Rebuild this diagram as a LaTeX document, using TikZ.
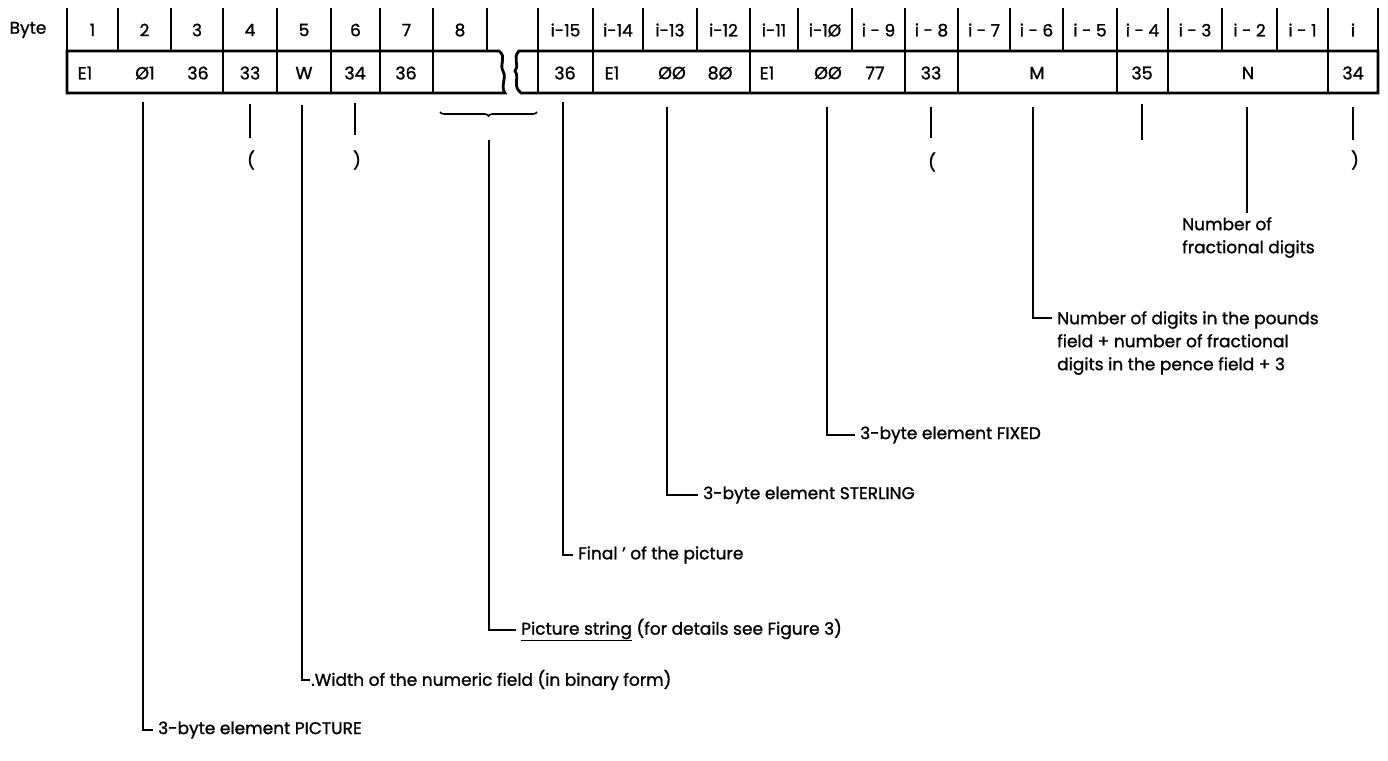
\documentclass[tikz,border=0pt]{standalone}
\usepackage{fontspec}
\setmainfont{Poppins}[FakeBold=1.2]
\usetikzlibrary{decorations.pathreplacing}
\begin{document}
\begin{tikzpicture}[x=1pt,y=-1pt,
  hdr/.style={font=\fontsize{17}{20}\selectfont, inner sep=0pt},
  cell/.style={font=\fontsize{17.5}{20}\selectfont, inner sep=0pt},
  lbl/.style={font=\fontsize{17}{23}\selectfont, anchor=west, inner sep=0pt, align=left},
  frame/.style={line width=2.8pt, line join=miter},
  sep/.style={line width=2.4pt},
  leader/.style={line width=1.2pt},
  tick/.style={line width=1.2pt},
]
\useasboundingbox (0,0) rectangle (1388,760);

% header separators
\foreach \x in {67,118,171,223,277,331,380,433,487,538,593,643,697,750,798,852,905,958,1010,1063,1117,1168,1222,1277,1328,1378}
  \draw[sep] (\x,8) -- (\x,51);

% frames
\draw[frame] (67,93) -- (67,51) -- (499,51)
  .. controls (507,57) and (499,64) .. (503,71)
  .. controls (507,78) and (500,86) .. (505,93) -- cycle;
\draw[frame] (1378,51) -- (519,51)
  .. controls (512,58) and (520,64) .. (515,71)
  .. controls (520,78) and (512,86) .. (521,93) -- (1378,93) -- cycle;

% data separators
\foreach \x in {223,277,331,380,433,538,593,750,905,958,1117,1168,1328}
  \draw[frame] (\x,51) -- (\x,93);

% header labels
\node[hdr] (byte) at (28,30) {Byte};
\foreach \n/\x/\t in {h1/92.5/1,h2/144.5/2,h3/197/3,h4/250/4,h5/304/5,h6/355.5/6,h7/406.5/7,h8/460/8,
  r15/565.5/i-15,r14/618/i-14,r13/670/i-13,r12/723.5/i-12,r11/774/i-11,r10/825/i-1Ø,
  r9/878.5/i - 9,r8/931.5/i - 8,r7/984/i - 7,r6/1036.5/i - 6,r5/1090/i - 5,r4/1142.5/i - 4,
  r3/1195/i - 3,r2/1249.5/i - 2,r1/1302.5/i - 1,r0/1353/i}
  \node[hdr] (\n) at (\x,30) {\t};

% cell contents
\foreach \n/\x/\t in {c1/85/E1,c2/145/Ø1,c3/198/36,c4/250/33,c5/304/W,c6/355/34,c7/406/36,
  d15/565/36,d14/612/E1,d13/672/ØØ,d12/720/8Ø,d11/767/E1,d10/828/ØØ,d9/875/77,d8/931/33,
  dM/1037/M,d4/1142/35,dN/1248/N,d0/1353/34}
  \node[cell] (\n) at (\x,73) {\t};

% ticks with parentheses
\coordinate (k4a) at (250,104); \coordinate (k4b) at (250,138);
\draw[tick] (k4a) -- (k4b);
\node[hdr] (p4) at (251,160) {(};
\coordinate (k6a) at (355,103); \coordinate (k6b) at (355,135);
\draw[tick] (k6a) -- (k6b);
\node[hdr] (p6) at (357,160) {)};
\coordinate (k8a) at (931,107); \coordinate (k8b) at (931,138);
\draw[tick] (k8a) -- (k8b);
\node[hdr] (p8) at (932,162) {(};
\coordinate (k44a) at (1142,104); \coordinate (k44b) at (1142,140);
\draw[tick] (k44a) -- (k44b);
\coordinate (k0a) at (1353,107); \coordinate (k0b) at (1353,140);
\draw[tick] (k0a) -- (k0b);
\node[hdr] (p0) at (1355,160) {)};

% brace
\coordinate (brL) at (440,112); \coordinate (brR) at (537,112);
\draw[line width=1.6pt, decorate, decoration={brace, amplitude=4pt, mirror}] (brL) -- (brR);

% leaders and labels
\coordinate (sPic) at (143,102);
\node[lbl] (tPic) at (158,730) {3-byte element PICTURE};
\draw[leader] (sPic) |- ([xshift=-5pt]tPic.west);

\coordinate (sW) at (302,105);
\node[lbl] (tW) at (311,680) {.Width of the numeric field (in binary form)};
\draw[leader] (sW) |- ([xshift=-1pt]tW.west);

\coordinate (sPS) at (489,140);
\node[lbl] (tPS) at (521,630) {\underline{Picture string} (for details see Figure 3)};
\draw[leader] (sPS) |- ([xshift=-5pt]tPS.west);

\coordinate (sF) at (563,102);
\node[lbl] (tF) at (578,555) {Final ’ of the picture};
\draw[leader] (sF) |- ([xshift=-5pt]tF.west);

\coordinate (sS) at (667,107);
\node[lbl] (tS) at (703,495) {3-byte element STERLING};
\draw[leader] (sS) |- ([xshift=-5pt]tS.west);

\coordinate (sX) at (827,107);
\node[lbl] (tX) at (860,435) {3-byte element FIXED};
\draw[leader] (sX) |- ([xshift=-5pt]tX.west);

\coordinate (sM) at (1033,107);
\node[lbl, anchor=north west] (tM) at (1057,311) {Number of digits in the pounds\\field + number of fractional\\digits in the pence field + 3};
\draw[leader] (sM) |- ([xshift=-5pt,yshift=-7pt]tM.north west);

\coordinate (sN) at (1247,107);
\node[lbl, anchor=north west] (tN) at (1182,217) {Number of\\fractional digits};
\draw[leader] (sN) -- ([yshift=4pt]tN.north -| sN) ;
\end{tikzpicture}
\end{document}
